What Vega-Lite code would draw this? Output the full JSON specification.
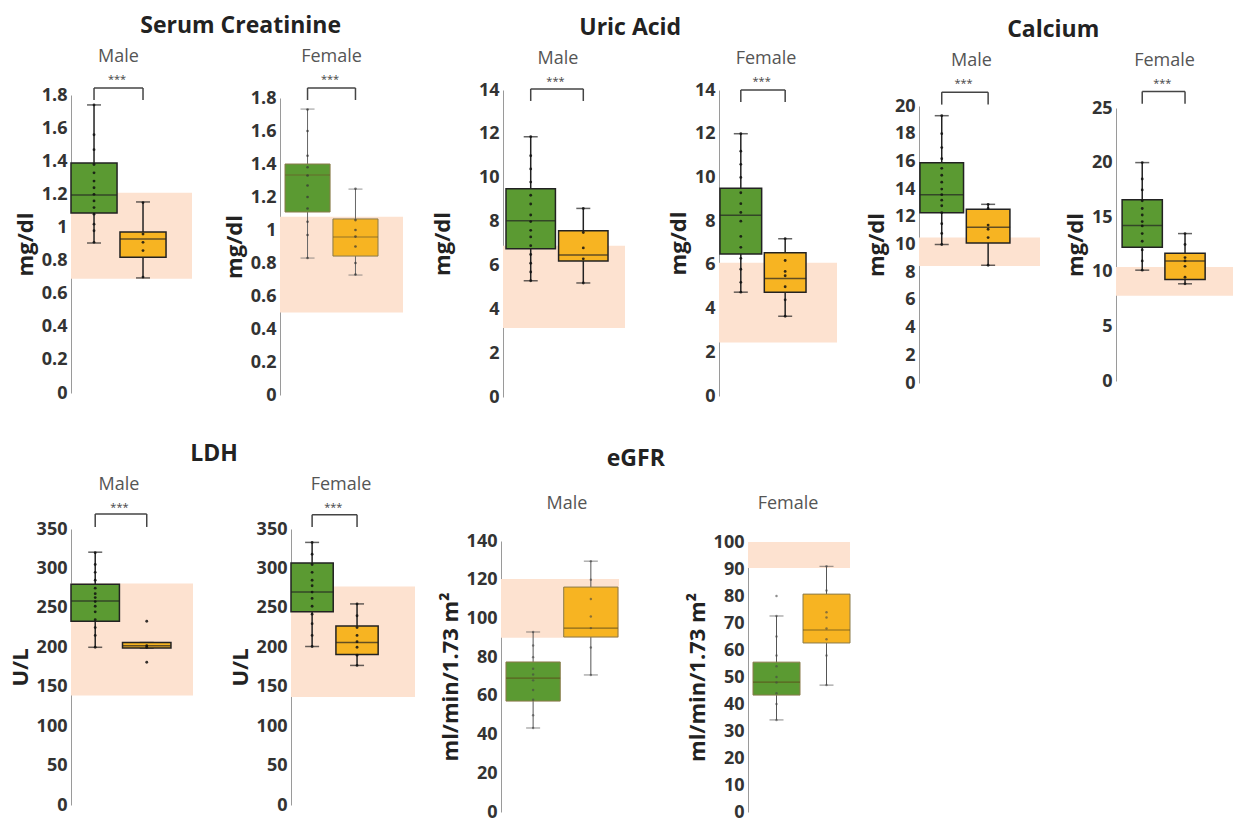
{
"$schema":"https://vega.github.io/schema/vega-lite/v6.json",
"padding":{"left":9,"top":15,"right":0,"bottom":0},
"background":"white",
"datasets":{
"stats":[
{"test":"SC","sex":"M","grp":"Group 1","min":0.906,"q1":1.087,"median":1.196,"q3":1.389,"max":1.74},
{"test":"SC","sex":"M","grp":"Group 2","min":0.695,"q1":0.82,"median":0.93,"q3":0.973,"max":1.154},
{"test":"SC","sex":"F","grp":"Group 1","min":0.83,"q1":1.109,"median":1.333,"q3":1.4,"max":1.733},
{"test":"SC","sex":"F","grp":"Group 2","min":0.727,"q1":0.842,"median":0.958,"q3":1.067,"max":1.248},
{"test":"UA","sex":"M","grp":"Group 1","min":5.3,"q1":6.76,"median":8.04,"q3":9.5,"max":11.87},
{"test":"UA","sex":"M","grp":"Group 2","min":5.2,"q1":6.2,"median":6.48,"q3":7.58,"max":8.6},
{"test":"UA","sex":"F","grp":"Group 1","min":4.75,"q1":6.5,"median":8.27,"q3":9.5,"max":12.0},
{"test":"UA","sex":"F","grp":"Group 2","min":3.65,"q1":4.75,"median":5.38,"q3":6.55,"max":7.2},
{"test":"CA","sex":"M","grp":"Group 1","min":10.0,"q1":12.3,"median":13.6,"q3":15.9,"max":19.3},
{"test":"CA","sex":"M","grp":"Group 2","min":8.5,"q1":10.1,"median":11.25,"q3":12.55,"max":12.9},
{"test":"CA","sex":"F","grp":"Group 1","min":10.15,"q1":12.25,"median":14.25,"q3":16.6,"max":20.0},
{"test":"CA","sex":"F","grp":"Group 2","min":8.9,"q1":9.3,"median":11.0,"q3":11.7,"max":13.5},
{"test":"LDH","sex":"M","grp":"Group 1","min":200,"q1":233,"median":258.6,"q3":280,"max":320.6},
{"test":"LDH","sex":"M","grp":"Group 2","min":199,"q1":199,"median":202,"q3":206,"max":206},
{"test":"LDH","sex":"F","grp":"Group 1","min":201,"q1":245,"median":270,"q3":307,"max":333},
{"test":"LDH","sex":"F","grp":"Group 2","min":177,"q1":191,"median":206,"q3":227,"max":255},
{"test":"EGFR","sex":"M","grp":"Group 1","min":43.4,"q1":57.3,"median":69.2,"q3":77.5,"max":93},
{"test":"EGFR","sex":"M","grp":"Group 2","min":70.8,"q1":90.4,"median":95,"q3":116.2,"max":129.6},
{"test":"EGFR","sex":"F","grp":"Group 1","min":34.1,"q1":43.3,"median":48.1,"q3":55.5,"max":72.6},
{"test":"EGFR","sex":"F","grp":"Group 2","min":47,"q1":62.6,"median":67.4,"q3":80.7,"max":91}
],
"ranges":[
{"test":"SC","sex":"M","lo":0.69,"hi":1.21},
{"test":"SC","sex":"F","lo":0.5,"hi":1.08},
{"test":"UA","sex":"M","lo":3.15,"hi":6.9},
{"test":"UA","sex":"F","lo":2.45,"hi":6.1},
{"test":"CA","sex":"M","lo":8.45,"hi":10.5},
{"test":"CA","sex":"F","lo":7.8,"hi":10.45},
{"test":"LDH","sex":"M","lo":139,"hi":281},
{"test":"LDH","sex":"F","lo":137,"hi":277},
{"test":"EGFR","sex":"M","lo":90,"hi":120.4},
{"test":"EGFR","sex":"F","lo":90.4,"hi":100}
],
"br":[
{"test":"SC","sex":"M","a":"Group 1","b":"Group 2","lo":1.77,"hi":1.842,"st":1.89},
{"test":"SC","sex":"F","a":"Group 1","b":"Group 2","lo":1.788,"hi":1.861,"st":1.909},
{"test":"UA","sex":"M","a":"Group 1","b":"Group 2","lo":13.5,"hi":14.05,"st":14.36},
{"test":"UA","sex":"F","a":"Group 1","b":"Group 2","lo":13.45,"hi":14.0,"st":14.36},
{"test":"CA","sex":"M","a":"Group 1","b":"Group 2","lo":20.1,"hi":21.0,"st":21.6},
{"test":"CA","sex":"F","a":"Group 1","b":"Group 2","lo":25.4,"hi":26.5,"st":27.2},
{"test":"LDH","sex":"M","a":"Group 1","b":"Group 2","lo":352.6,"hi":369,"st":377},
{"test":"LDH","sex":"F","a":"Group 1","b":"Group 2","lo":352.6,"hi":368,"st":377}
],
"pts":[
{"test":"SC","sex":"M","grp":"Group 1","v":0.91},{"test":"SC","sex":"M","grp":"Group 1","v":0.98},{"test":"SC","sex":"M","grp":"Group 1","v":1.02},{"test":"SC","sex":"M","grp":"Group 1","v":1.08},{"test":"SC","sex":"M","grp":"Group 1","v":1.12},{"test":"SC","sex":"M","grp":"Group 1","v":1.16},{"test":"SC","sex":"M","grp":"Group 1","v":1.2},{"test":"SC","sex":"M","grp":"Group 1","v":1.24},{"test":"SC","sex":"M","grp":"Group 1","v":1.28},{"test":"SC","sex":"M","grp":"Group 1","v":1.33},{"test":"SC","sex":"M","grp":"Group 1","v":1.38},{"test":"SC","sex":"M","grp":"Group 1","v":1.47},{"test":"SC","sex":"M","grp":"Group 1","v":1.56},{"test":"SC","sex":"M","grp":"Group 1","v":1.74},
{"test":"SC","sex":"M","grp":"Group 2","v":0.7},{"test":"SC","sex":"M","grp":"Group 2","v":0.86},{"test":"SC","sex":"M","grp":"Group 2","v":0.91},{"test":"SC","sex":"M","grp":"Group 2","v":0.96},{"test":"SC","sex":"M","grp":"Group 2","v":1.15},
{"test":"SC","sex":"F","grp":"Group 1","v":0.83},{"test":"SC","sex":"F","grp":"Group 1","v":0.97},{"test":"SC","sex":"F","grp":"Group 1","v":1.05},{"test":"SC","sex":"F","grp":"Group 1","v":1.13},{"test":"SC","sex":"F","grp":"Group 1","v":1.2},{"test":"SC","sex":"F","grp":"Group 1","v":1.27},{"test":"SC","sex":"F","grp":"Group 1","v":1.33},{"test":"SC","sex":"F","grp":"Group 1","v":1.38},{"test":"SC","sex":"F","grp":"Group 1","v":1.45},{"test":"SC","sex":"F","grp":"Group 1","v":1.6},{"test":"SC","sex":"F","grp":"Group 1","v":1.73},
{"test":"SC","sex":"F","grp":"Group 2","v":0.73},{"test":"SC","sex":"F","grp":"Group 2","v":0.8},{"test":"SC","sex":"F","grp":"Group 2","v":0.9},{"test":"SC","sex":"F","grp":"Group 2","v":0.96},{"test":"SC","sex":"F","grp":"Group 2","v":1.0},{"test":"SC","sex":"F","grp":"Group 2","v":1.06},{"test":"SC","sex":"F","grp":"Group 2","v":1.25},
{"test":"UA","sex":"M","grp":"Group 1","v":5.3},{"test":"UA","sex":"M","grp":"Group 1","v":5.7},{"test":"UA","sex":"M","grp":"Group 1","v":6.1},{"test":"UA","sex":"M","grp":"Group 1","v":6.5},{"test":"UA","sex":"M","grp":"Group 1","v":6.9},{"test":"UA","sex":"M","grp":"Group 1","v":7.3},{"test":"UA","sex":"M","grp":"Group 1","v":7.6},{"test":"UA","sex":"M","grp":"Group 1","v":8.0},{"test":"UA","sex":"M","grp":"Group 1","v":8.3},{"test":"UA","sex":"M","grp":"Group 1","v":8.8},{"test":"UA","sex":"M","grp":"Group 1","v":9.2},{"test":"UA","sex":"M","grp":"Group 1","v":9.8},{"test":"UA","sex":"M","grp":"Group 1","v":10.4},{"test":"UA","sex":"M","grp":"Group 1","v":11.0},{"test":"UA","sex":"M","grp":"Group 1","v":11.87},
{"test":"UA","sex":"M","grp":"Group 2","v":5.2},{"test":"UA","sex":"M","grp":"Group 2","v":6.3},{"test":"UA","sex":"M","grp":"Group 2","v":6.8},{"test":"UA","sex":"M","grp":"Group 2","v":7.5},{"test":"UA","sex":"M","grp":"Group 2","v":8.6},
{"test":"UA","sex":"F","grp":"Group 1","v":4.75},{"test":"UA","sex":"F","grp":"Group 1","v":5.2},{"test":"UA","sex":"F","grp":"Group 1","v":5.8},{"test":"UA","sex":"F","grp":"Group 1","v":6.3},{"test":"UA","sex":"F","grp":"Group 1","v":6.8},{"test":"UA","sex":"F","grp":"Group 1","v":7.3},{"test":"UA","sex":"F","grp":"Group 1","v":8.0},{"test":"UA","sex":"F","grp":"Group 1","v":8.4},{"test":"UA","sex":"F","grp":"Group 1","v":8.8},{"test":"UA","sex":"F","grp":"Group 1","v":9.3},{"test":"UA","sex":"F","grp":"Group 1","v":10.0},{"test":"UA","sex":"F","grp":"Group 1","v":10.6},{"test":"UA","sex":"F","grp":"Group 1","v":11.2},{"test":"UA","sex":"F","grp":"Group 1","v":12.0},
{"test":"UA","sex":"F","grp":"Group 2","v":3.65},{"test":"UA","sex":"F","grp":"Group 2","v":4.4},{"test":"UA","sex":"F","grp":"Group 2","v":5.0},{"test":"UA","sex":"F","grp":"Group 2","v":5.5},{"test":"UA","sex":"F","grp":"Group 2","v":5.7},{"test":"UA","sex":"F","grp":"Group 2","v":6.2},{"test":"UA","sex":"F","grp":"Group 2","v":7.2},
{"test":"CA","sex":"M","grp":"Group 1","v":10.0},{"test":"CA","sex":"M","grp":"Group 1","v":10.8},{"test":"CA","sex":"M","grp":"Group 1","v":11.5},{"test":"CA","sex":"M","grp":"Group 1","v":12.3},{"test":"CA","sex":"M","grp":"Group 1","v":12.8},{"test":"CA","sex":"M","grp":"Group 1","v":13.2},{"test":"CA","sex":"M","grp":"Group 1","v":13.6},{"test":"CA","sex":"M","grp":"Group 1","v":14.0},{"test":"CA","sex":"M","grp":"Group 1","v":14.5},{"test":"CA","sex":"M","grp":"Group 1","v":15.0},{"test":"CA","sex":"M","grp":"Group 1","v":15.5},{"test":"CA","sex":"M","grp":"Group 1","v":16.2},{"test":"CA","sex":"M","grp":"Group 1","v":17.0},{"test":"CA","sex":"M","grp":"Group 1","v":18.0},{"test":"CA","sex":"M","grp":"Group 1","v":19.3},
{"test":"CA","sex":"M","grp":"Group 2","v":8.5},{"test":"CA","sex":"M","grp":"Group 2","v":10.5},{"test":"CA","sex":"M","grp":"Group 2","v":11.1},{"test":"CA","sex":"M","grp":"Group 2","v":11.4},{"test":"CA","sex":"M","grp":"Group 2","v":12.6},{"test":"CA","sex":"M","grp":"Group 2","v":12.9},
{"test":"CA","sex":"F","grp":"Group 1","v":10.15},{"test":"CA","sex":"F","grp":"Group 1","v":11.0},{"test":"CA","sex":"F","grp":"Group 1","v":12.0},{"test":"CA","sex":"F","grp":"Group 1","v":12.8},{"test":"CA","sex":"F","grp":"Group 1","v":13.5},{"test":"CA","sex":"F","grp":"Group 1","v":14.2},{"test":"CA","sex":"F","grp":"Group 1","v":14.6},{"test":"CA","sex":"F","grp":"Group 1","v":15.2},{"test":"CA","sex":"F","grp":"Group 1","v":15.8},{"test":"CA","sex":"F","grp":"Group 1","v":16.5},{"test":"CA","sex":"F","grp":"Group 1","v":17.5},{"test":"CA","sex":"F","grp":"Group 1","v":18.5},{"test":"CA","sex":"F","grp":"Group 1","v":20.0},
{"test":"CA","sex":"F","grp":"Group 2","v":8.9},{"test":"CA","sex":"F","grp":"Group 2","v":9.5},{"test":"CA","sex":"F","grp":"Group 2","v":10.5},{"test":"CA","sex":"F","grp":"Group 2","v":11.0},{"test":"CA","sex":"F","grp":"Group 2","v":11.3},{"test":"CA","sex":"F","grp":"Group 2","v":12.5},{"test":"CA","sex":"F","grp":"Group 2","v":13.5},
{"test":"LDH","sex":"M","grp":"Group 1","v":200},{"test":"LDH","sex":"M","grp":"Group 1","v":215},{"test":"LDH","sex":"M","grp":"Group 1","v":225},{"test":"LDH","sex":"M","grp":"Group 1","v":235},{"test":"LDH","sex":"M","grp":"Group 1","v":245},{"test":"LDH","sex":"M","grp":"Group 1","v":252},{"test":"LDH","sex":"M","grp":"Group 1","v":258},{"test":"LDH","sex":"M","grp":"Group 1","v":263},{"test":"LDH","sex":"M","grp":"Group 1","v":268},{"test":"LDH","sex":"M","grp":"Group 1","v":275},{"test":"LDH","sex":"M","grp":"Group 1","v":285},{"test":"LDH","sex":"M","grp":"Group 1","v":295},{"test":"LDH","sex":"M","grp":"Group 1","v":305},{"test":"LDH","sex":"M","grp":"Group 1","v":320},
{"test":"LDH","sex":"M","grp":"Group 2","v":181},{"test":"LDH","sex":"M","grp":"Group 2","v":200},{"test":"LDH","sex":"M","grp":"Group 2","v":202},{"test":"LDH","sex":"M","grp":"Group 2","v":233},
{"test":"LDH","sex":"F","grp":"Group 1","v":201},{"test":"LDH","sex":"F","grp":"Group 1","v":215},{"test":"LDH","sex":"F","grp":"Group 1","v":230},{"test":"LDH","sex":"F","grp":"Group 1","v":242},{"test":"LDH","sex":"F","grp":"Group 1","v":252},{"test":"LDH","sex":"F","grp":"Group 1","v":262},{"test":"LDH","sex":"F","grp":"Group 1","v":270},{"test":"LDH","sex":"F","grp":"Group 1","v":278},{"test":"LDH","sex":"F","grp":"Group 1","v":285},{"test":"LDH","sex":"F","grp":"Group 1","v":295},{"test":"LDH","sex":"F","grp":"Group 1","v":305},{"test":"LDH","sex":"F","grp":"Group 1","v":318},{"test":"LDH","sex":"F","grp":"Group 1","v":333},
{"test":"LDH","sex":"F","grp":"Group 2","v":177},{"test":"LDH","sex":"F","grp":"Group 2","v":190},{"test":"LDH","sex":"F","grp":"Group 2","v":200},{"test":"LDH","sex":"F","grp":"Group 2","v":207},{"test":"LDH","sex":"F","grp":"Group 2","v":215},{"test":"LDH","sex":"F","grp":"Group 2","v":225},{"test":"LDH","sex":"F","grp":"Group 2","v":240},{"test":"LDH","sex":"F","grp":"Group 2","v":255},
{"test":"EGFR","sex":"M","grp":"Group 1","v":43.4},{"test":"EGFR","sex":"M","grp":"Group 1","v":50},{"test":"EGFR","sex":"M","grp":"Group 1","v":58},{"test":"EGFR","sex":"M","grp":"Group 1","v":63},{"test":"EGFR","sex":"M","grp":"Group 1","v":68},{"test":"EGFR","sex":"M","grp":"Group 1","v":71},{"test":"EGFR","sex":"M","grp":"Group 1","v":74},{"test":"EGFR","sex":"M","grp":"Group 1","v":80},{"test":"EGFR","sex":"M","grp":"Group 1","v":86},{"test":"EGFR","sex":"M","grp":"Group 1","v":93},
{"test":"EGFR","sex":"M","grp":"Group 2","v":70.8},{"test":"EGFR","sex":"M","grp":"Group 2","v":85},{"test":"EGFR","sex":"M","grp":"Group 2","v":95},{"test":"EGFR","sex":"M","grp":"Group 2","v":101},{"test":"EGFR","sex":"M","grp":"Group 2","v":110},{"test":"EGFR","sex":"M","grp":"Group 2","v":120},{"test":"EGFR","sex":"M","grp":"Group 2","v":129.6},
{"test":"EGFR","sex":"F","grp":"Group 1","v":34.1},{"test":"EGFR","sex":"F","grp":"Group 1","v":40},{"test":"EGFR","sex":"F","grp":"Group 1","v":44},{"test":"EGFR","sex":"F","grp":"Group 1","v":48},{"test":"EGFR","sex":"F","grp":"Group 1","v":50},{"test":"EGFR","sex":"F","grp":"Group 1","v":54},{"test":"EGFR","sex":"F","grp":"Group 1","v":58},{"test":"EGFR","sex":"F","grp":"Group 1","v":65},{"test":"EGFR","sex":"F","grp":"Group 1","v":72.6},{"test":"EGFR","sex":"F","grp":"Group 1","v":80},
{"test":"EGFR","sex":"F","grp":"Group 2","v":47},{"test":"EGFR","sex":"F","grp":"Group 2","v":58},{"test":"EGFR","sex":"F","grp":"Group 2","v":64},{"test":"EGFR","sex":"F","grp":"Group 2","v":68},{"test":"EGFR","sex":"F","grp":"Group 2","v":72},{"test":"EGFR","sex":"F","grp":"Group 2","v":74},{"test":"EGFR","sex":"F","grp":"Group 2","v":82},{"test":"EGFR","sex":"F","grp":"Group 2","v":91}
]
},
"concat":[
{"concat":[
 {"title":{"text":"Serum Creatinine","fontSize":23,"fontWeight":"bold","color":"#222","offset":10,"anchor":"middle","dx":32},
  "columns":2,"align":"none","spacing":31,
  "concat":[
  {"width":121,"height":307,"title":{"text":"Male","offset":8,"frame":"group","dx":-13},
   "layer":[
    {"data":{"name":"ranges"},"transform":[{"filter":"datum.test=='SC'&&datum.sex=='M'"}],"mark":{"type":"rect","color":"#fde2d0"},"encoding":{"x":{"value":0},"x2":{"value":"width"},"y":{"field":"lo","type":"quantitative","scale":{"domain":[0,1.8],"nice":false,"range":[303,5]},"axis":{"title":"mg/dl","values":[0,0.2,0.4,0.6,0.8,1,1.2,1.4,1.6,1.8],"tickCount":20,"format":"~f","labelOverlap":false}},"y2":{"field":"hi"}}},
    {"data":{"name":"stats"},"transform":[{"filter":"datum.test=='SC'&&datum.sex=='M'"}],"mark":{"type":"rule","color":"#222","strokeWidth":1.5},"encoding":{"x":{"field":"grp","type":"nominal","scale":{"domain":["Group 1","Group 2"],"paddingInner":0.06,"paddingOuter":0.265,"align":0},"axis":null},"y":{"field":"min","type":"quantitative"},"y2":{"field":"max"}}},
    {"data":{"name":"stats"},"transform":[{"filter":"datum.test=='SC'&&datum.sex=='M'"}],"mark":{"type":"tick","color":"#222","size":14,"thickness":1.5},"encoding":{"x":{"field":"grp","type":"nominal"},"y":{"field":"min","type":"quantitative"}}},
    {"data":{"name":"stats"},"transform":[{"filter":"datum.test=='SC'&&datum.sex=='M'"}],"mark":{"type":"tick","color":"#222","size":14,"thickness":1.5},"encoding":{"x":{"field":"grp","type":"nominal"},"y":{"field":"max","type":"quantitative"}}},
    {"data":{"name":"stats"},"transform":[{"filter":"datum.test=='SC'&&datum.sex=='M'"}],"mark":{"type":"bar","stroke":"#222","strokeWidth":1.5},"encoding":{"x":{"field":"grp","type":"nominal"},"y":{"field":"q1","type":"quantitative"},"y2":{"field":"q3"},"color":{"field":"grp","type":"nominal","scale":{"domain":["Group 1","Group 2"],"range":["#5b9a32","#f7b422"]},"legend":null}}},
    {"data":{"name":"stats"},"transform":[{"filter":"datum.test=='SC'&&datum.sex=='M'"}],"mark":{"type":"tick","color":"#222","size":46,"thickness":1.5},"encoding":{"x":{"field":"grp","type":"nominal"},"y":{"field":"median","type":"quantitative"}}},
    {"data":{"name":"pts"},"transform":[{"filter":"datum.test=='SC'&&datum.sex=='M'"}],"mark":{"type":"circle","color":"#111","size":8,"opacity":0.85},"encoding":{"x":{"field":"grp","type":"nominal"},"y":{"field":"v","type":"quantitative"}}},
    {"data":{"name":"br"},"transform":[{"filter":"datum.test=='SC'&&datum.sex=='M'"}],"mark":{"type":"rule","color":"#444","strokeWidth":1.5},"encoding":{"x":{"field":"a","type":"nominal"},"y":{"field":"lo","type":"quantitative"},"y2":{"field":"hi"}}},
    {"data":{"name":"br"},"transform":[{"filter":"datum.test=='SC'&&datum.sex=='M'"}],"mark":{"type":"rule","color":"#444","strokeWidth":1.5},"encoding":{"x":{"field":"b","type":"nominal"},"y":{"field":"lo","type":"quantitative"},"y2":{"field":"hi"}}},
    {"data":{"name":"br"},"transform":[{"filter":"datum.test=='SC'&&datum.sex=='M'"}],"mark":{"type":"rule","color":"#444","strokeWidth":1.5},"encoding":{"x":{"field":"a","type":"nominal"},"x2":{"field":"b"},"y":{"field":"hi","type":"quantitative"}}},
    {"data":{"name":"br"},"transform":[{"filter":"datum.test=='SC'&&datum.sex=='M'"}],"mark":{"type":"text","text":"***","fontSize":11,"color":"#444","baseline":"middle"},"encoding":{"x":{"field":"a","type":"nominal","bandPosition":1},"y":{"field":"st","type":"quantitative"}}}
   ]},
  {"width":123,"height":307,"title":{"text":"Female","offset":8,"frame":"group","dx":-10},
   "layer":[
    {"data":{"name":"ranges"},"transform":[{"filter":"datum.test=='SC'&&datum.sex=='F'"}],"mark":{"type":"rect","color":"#fde2d0"},"encoding":{"x":{"value":0},"x2":{"value":"width"},"y":{"field":"lo","type":"quantitative","scale":{"domain":[0,1.8],"nice":false,"range":[305,8]},"axis":{"title":"mg/dl","values":[0,0.2,0.4,0.6,0.8,1,1.2,1.4,1.6,1.8],"tickCount":20,"format":"~f","labelOverlap":false}},"y2":{"field":"hi"}}},
    {"data":{"name":"stats"},"transform":[{"filter":"datum.test=='SC'&&datum.sex=='F'"}],"mark":{"type":"rule","color":"#666","strokeWidth":1},"encoding":{"x":{"field":"grp","type":"nominal","scale":{"domain":["Group 1","Group 2"],"paddingInner":0.06,"paddingOuter":0.313,"align":0.167},"axis":null},"y":{"field":"min","type":"quantitative"},"y2":{"field":"max"}}},
    {"data":{"name":"stats"},"transform":[{"filter":"datum.test=='SC'&&datum.sex=='F'"}],"mark":{"type":"tick","color":"#666","size":14,"thickness":1},"encoding":{"x":{"field":"grp","type":"nominal"},"y":{"field":"min","type":"quantitative"}}},
    {"data":{"name":"stats"},"transform":[{"filter":"datum.test=='SC'&&datum.sex=='F'"}],"mark":{"type":"tick","color":"#666","size":14,"thickness":1},"encoding":{"x":{"field":"grp","type":"nominal"},"y":{"field":"max","type":"quantitative"}}},
    {"data":{"name":"stats"},"transform":[{"filter":"datum.test=='SC'&&datum.sex=='F'"}],"mark":{"type":"bar","stroke":"#8a7a4a","strokeWidth":1},"encoding":{"x":{"field":"grp","type":"nominal"},"y":{"field":"q1","type":"quantitative"},"y2":{"field":"q3"},"color":{"field":"grp","type":"nominal","scale":{"domain":["Group 1","Group 2"],"range":["#5b9a32","#f7b422"]},"legend":null}}},
    {"data":{"name":"stats"},"transform":[{"filter":"datum.test=='SC'&&datum.sex=='F'"}],"mark":{"type":"tick","color":"#6a5a2a","size":45,"thickness":1},"encoding":{"x":{"field":"grp","type":"nominal"},"y":{"field":"median","type":"quantitative"}}},
    {"data":{"name":"pts"},"transform":[{"filter":"datum.test=='SC'&&datum.sex=='F'"}],"mark":{"type":"circle","color":"#333","size":7,"opacity":0.7},"encoding":{"x":{"field":"grp","type":"nominal"},"y":{"field":"v","type":"quantitative"}}},
    {"data":{"name":"br"},"transform":[{"filter":"datum.test=='SC'&&datum.sex=='F'"}],"mark":{"type":"rule","color":"#444","strokeWidth":1.5},"encoding":{"x":{"field":"a","type":"nominal"},"y":{"field":"lo","type":"quantitative"},"y2":{"field":"hi"}}},
    {"data":{"name":"br"},"transform":[{"filter":"datum.test=='SC'&&datum.sex=='F'"}],"mark":{"type":"rule","color":"#444","strokeWidth":1.5},"encoding":{"x":{"field":"b","type":"nominal"},"y":{"field":"lo","type":"quantitative"},"y2":{"field":"hi"}}},
    {"data":{"name":"br"},"transform":[{"filter":"datum.test=='SC'&&datum.sex=='F'"}],"mark":{"type":"rule","color":"#444","strokeWidth":1.5},"encoding":{"x":{"field":"a","type":"nominal"},"x2":{"field":"b"},"y":{"field":"hi","type":"quantitative"}}},
    {"data":{"name":"br"},"transform":[{"filter":"datum.test=='SC'&&datum.sex=='F'"}],"mark":{"type":"text","text":"***","fontSize":11,"color":"#444","baseline":"middle"},"encoding":{"x":{"field":"a","type":"nominal","bandPosition":1},"y":{"field":"st","type":"quantitative"}}}
   ]}
 ]},
 {"title":{"text":"Uric Acid","fontSize":23,"fontWeight":"bold","color":"#222","offset":10,"anchor":"middle","dx":-4},
  "columns":2,"align":"none","spacing":42,
  "concat":[
  {"width":122,"height":307,"title":{"text":"Male","offset":8,"frame":"group","dx":-6},
   "layer":[
    {"data":{"name":"ranges"},"transform":[{"filter":"datum.test=='UA'&&datum.sex=='M'"}],"mark":{"type":"rect","color":"#fde2d0"},"encoding":{"x":{"value":0},"x2":{"value":"width"},"y":{"field":"lo","type":"quantitative","scale":{"domain":[0,14],"nice":false,"range":[307,0]},"axis":{"title":"mg/dl","values":[0,2,4,6,8,10,12,14],"tickCount":20,"format":"~f","labelOverlap":false,"titlePadding":24}},"y2":{"field":"hi"}}},
    {"data":{"name":"stats"},"transform":[{"filter":"datum.test=='UA'&&datum.sex=='M'"}],"mark":{"type":"rule","color":"#222","strokeWidth":1.5},"encoding":{"x":{"field":"grp","type":"nominal","scale":{"domain":["Group 1","Group 2"],"paddingInner":0.06,"paddingOuter":0.19,"align":0.15},"axis":null},"y":{"field":"min","type":"quantitative"},"y2":{"field":"max"}}},
    {"data":{"name":"stats"},"transform":[{"filter":"datum.test=='UA'&&datum.sex=='M'"}],"mark":{"type":"tick","color":"#222","size":14,"thickness":1.5},"encoding":{"x":{"field":"grp","type":"nominal"},"y":{"field":"min","type":"quantitative"}}},
    {"data":{"name":"stats"},"transform":[{"filter":"datum.test=='UA'&&datum.sex=='M'"}],"mark":{"type":"tick","color":"#222","size":14,"thickness":1.5},"encoding":{"x":{"field":"grp","type":"nominal"},"y":{"field":"max","type":"quantitative"}}},
    {"data":{"name":"stats"},"transform":[{"filter":"datum.test=='UA'&&datum.sex=='M'"}],"mark":{"type":"bar","stroke":"#222","strokeWidth":1.5},"encoding":{"x":{"field":"grp","type":"nominal"},"y":{"field":"q1","type":"quantitative"},"y2":{"field":"q3"},"color":{"field":"grp","type":"nominal","scale":{"domain":["Group 1","Group 2"],"range":["#5b9a32","#f7b422"]},"legend":null}}},
    {"data":{"name":"stats"},"transform":[{"filter":"datum.test=='UA'&&datum.sex=='M'"}],"mark":{"type":"tick","color":"#222","size":49,"thickness":1.5},"encoding":{"x":{"field":"grp","type":"nominal"},"y":{"field":"median","type":"quantitative"}}},
    {"data":{"name":"pts"},"transform":[{"filter":"datum.test=='UA'&&datum.sex=='M'"}],"mark":{"type":"circle","color":"#111","size":8,"opacity":0.85},"encoding":{"x":{"field":"grp","type":"nominal"},"y":{"field":"v","type":"quantitative"}}},
    {"data":{"name":"br"},"transform":[{"filter":"datum.test=='UA'&&datum.sex=='M'"}],"mark":{"type":"rule","color":"#444","strokeWidth":1.5},"encoding":{"x":{"field":"a","type":"nominal"},"y":{"field":"lo","type":"quantitative"},"y2":{"field":"hi"}}},
    {"data":{"name":"br"},"transform":[{"filter":"datum.test=='UA'&&datum.sex=='M'"}],"mark":{"type":"rule","color":"#444","strokeWidth":1.5},"encoding":{"x":{"field":"b","type":"nominal"},"y":{"field":"lo","type":"quantitative"},"y2":{"field":"hi"}}},
    {"data":{"name":"br"},"transform":[{"filter":"datum.test=='UA'&&datum.sex=='M'"}],"mark":{"type":"rule","color":"#444","strokeWidth":1.5},"encoding":{"x":{"field":"a","type":"nominal"},"x2":{"field":"b"},"y":{"field":"hi","type":"quantitative"}}},
    {"data":{"name":"br"},"transform":[{"filter":"datum.test=='UA'&&datum.sex=='M'"}],"mark":{"type":"text","text":"***","fontSize":11,"color":"#444","baseline":"middle"},"encoding":{"x":{"field":"a","type":"nominal","bandPosition":1},"y":{"field":"st","type":"quantitative"}}}
   ]},
  {"width":118,"height":307,"title":{"text":"Female","offset":8,"frame":"group","dx":-12},
   "layer":[
    {"data":{"name":"ranges"},"transform":[{"filter":"datum.test=='UA'&&datum.sex=='F'"}],"mark":{"type":"rect","color":"#fde2d0"},"encoding":{"x":{"value":0},"x2":{"value":"width"},"y":{"field":"lo","type":"quantitative","scale":{"domain":[0,14],"nice":false,"range":[306,0]},"axis":{"title":"mg/dl","values":[0,2,4,6,8,10,12,14],"tickCount":20,"format":"~f","labelOverlap":false}},"y2":{"field":"hi"}}},
    {"data":{"name":"stats"},"transform":[{"filter":"datum.test=='UA'&&datum.sex=='F'"}],"mark":{"type":"rule","color":"#222","strokeWidth":1.5},"encoding":{"x":{"field":"grp","type":"nominal","scale":{"domain":["Group 1","Group 2"],"paddingInner":0.06,"paddingOuter":0.36,"align":0.03},"axis":null},"y":{"field":"min","type":"quantitative"},"y2":{"field":"max"}}},
    {"data":{"name":"stats"},"transform":[{"filter":"datum.test=='UA'&&datum.sex=='F'"}],"mark":{"type":"tick","color":"#222","size":14,"thickness":1.5},"encoding":{"x":{"field":"grp","type":"nominal"},"y":{"field":"min","type":"quantitative"}}},
    {"data":{"name":"stats"},"transform":[{"filter":"datum.test=='UA'&&datum.sex=='F'"}],"mark":{"type":"tick","color":"#222","size":14,"thickness":1.5},"encoding":{"x":{"field":"grp","type":"nominal"},"y":{"field":"max","type":"quantitative"}}},
    {"data":{"name":"stats"},"transform":[{"filter":"datum.test=='UA'&&datum.sex=='F'"}],"mark":{"type":"bar","stroke":"#222","strokeWidth":1.5},"encoding":{"x":{"field":"grp","type":"nominal"},"y":{"field":"q1","type":"quantitative"},"y2":{"field":"q3"},"color":{"field":"grp","type":"nominal","scale":{"domain":["Group 1","Group 2"],"range":["#5b9a32","#f7b422"]},"legend":null}}},
    {"data":{"name":"stats"},"transform":[{"filter":"datum.test=='UA'&&datum.sex=='F'"}],"mark":{"type":"tick","color":"#222","size":42,"thickness":1.5},"encoding":{"x":{"field":"grp","type":"nominal"},"y":{"field":"median","type":"quantitative"}}},
    {"data":{"name":"pts"},"transform":[{"filter":"datum.test=='UA'&&datum.sex=='F'"}],"mark":{"type":"circle","color":"#111","size":8,"opacity":0.85},"encoding":{"x":{"field":"grp","type":"nominal"},"y":{"field":"v","type":"quantitative"}}},
    {"data":{"name":"br"},"transform":[{"filter":"datum.test=='UA'&&datum.sex=='F'"}],"mark":{"type":"rule","color":"#444","strokeWidth":1.5},"encoding":{"x":{"field":"a","type":"nominal"},"y":{"field":"lo","type":"quantitative"},"y2":{"field":"hi"}}},
    {"data":{"name":"br"},"transform":[{"filter":"datum.test=='UA'&&datum.sex=='F'"}],"mark":{"type":"rule","color":"#444","strokeWidth":1.5},"encoding":{"x":{"field":"b","type":"nominal"},"y":{"field":"lo","type":"quantitative"},"y2":{"field":"hi"}}},
    {"data":{"name":"br"},"transform":[{"filter":"datum.test=='UA'&&datum.sex=='F'"}],"mark":{"type":"rule","color":"#444","strokeWidth":1.5},"encoding":{"x":{"field":"a","type":"nominal"},"x2":{"field":"b"},"y":{"field":"hi","type":"quantitative"}}},
    {"data":{"name":"br"},"transform":[{"filter":"datum.test=='UA'&&datum.sex=='F'"}],"mark":{"type":"text","text":"***","fontSize":11,"color":"#444","baseline":"middle"},"encoding":{"x":{"field":"a","type":"nominal","bandPosition":1},"y":{"field":"st","type":"quantitative"}}}
   ]}
 ]},
 {"title":{"text":"Calcium","fontSize":23,"fontWeight":"bold","color":"#222","offset":10,"anchor":"middle","dx":4},
  "columns":2,"align":"none","spacing":24,
  "concat":[
  {"width":121,"height":307,"title":{"text":"Male","offset":8,"frame":"group","dx":-8},
   "layer":[
    {"data":{"name":"ranges"},"transform":[{"filter":"datum.test=='CA'&&datum.sex=='M'"}],"mark":{"type":"rect","color":"#fde2d0"},"encoding":{"x":{"value":0},"x2":{"value":"width"},"y":{"field":"lo","type":"quantitative","scale":{"domain":[0,20],"nice":false,"range":[293,16]},"axis":{"title":"mg/dl","values":[0,2,4,6,8,10,12,14,16,18,20],"tickCount":20,"format":"~f","labelOverlap":false,"titlePadding":6,"labelPadding":4}},"y2":{"field":"hi"}}},
    {"data":{"name":"stats"},"transform":[{"filter":"datum.test=='CA'&&datum.sex=='M'"}],"mark":{"type":"rule","color":"#222","strokeWidth":1.5},"encoding":{"x":{"field":"grp","type":"nominal","scale":{"domain":["Group 1","Group 2"],"paddingInner":0.06,"paddingOuter":0.334,"align":0.03},"axis":null},"y":{"field":"min","type":"quantitative"},"y2":{"field":"max"}}},
    {"data":{"name":"stats"},"transform":[{"filter":"datum.test=='CA'&&datum.sex=='M'"}],"mark":{"type":"tick","color":"#222","size":14,"thickness":1.5},"encoding":{"x":{"field":"grp","type":"nominal"},"y":{"field":"min","type":"quantitative"}}},
    {"data":{"name":"stats"},"transform":[{"filter":"datum.test=='CA'&&datum.sex=='M'"}],"mark":{"type":"tick","color":"#222","size":14,"thickness":1.5},"encoding":{"x":{"field":"grp","type":"nominal"},"y":{"field":"max","type":"quantitative"}}},
    {"data":{"name":"stats"},"transform":[{"filter":"datum.test=='CA'&&datum.sex=='M'"}],"mark":{"type":"bar","stroke":"#222","strokeWidth":1.5},"encoding":{"x":{"field":"grp","type":"nominal"},"y":{"field":"q1","type":"quantitative"},"y2":{"field":"q3"},"color":{"field":"grp","type":"nominal","scale":{"domain":["Group 1","Group 2"],"range":["#5b9a32","#f7b422"]},"legend":null}}},
    {"data":{"name":"stats"},"transform":[{"filter":"datum.test=='CA'&&datum.sex=='M'"}],"mark":{"type":"tick","color":"#222","size":44,"thickness":1.5},"encoding":{"x":{"field":"grp","type":"nominal"},"y":{"field":"median","type":"quantitative"}}},
    {"data":{"name":"pts"},"transform":[{"filter":"datum.test=='CA'&&datum.sex=='M'"}],"mark":{"type":"circle","color":"#111","size":8,"opacity":0.85},"encoding":{"x":{"field":"grp","type":"nominal"},"y":{"field":"v","type":"quantitative"}}},
    {"data":{"name":"br"},"transform":[{"filter":"datum.test=='CA'&&datum.sex=='M'"}],"mark":{"type":"rule","color":"#444","strokeWidth":1.5},"encoding":{"x":{"field":"a","type":"nominal"},"y":{"field":"lo","type":"quantitative"},"y2":{"field":"hi"}}},
    {"data":{"name":"br"},"transform":[{"filter":"datum.test=='CA'&&datum.sex=='M'"}],"mark":{"type":"rule","color":"#444","strokeWidth":1.5},"encoding":{"x":{"field":"b","type":"nominal"},"y":{"field":"lo","type":"quantitative"},"y2":{"field":"hi"}}},
    {"data":{"name":"br"},"transform":[{"filter":"datum.test=='CA'&&datum.sex=='M'"}],"mark":{"type":"rule","color":"#444","strokeWidth":1.5},"encoding":{"x":{"field":"a","type":"nominal"},"x2":{"field":"b"},"y":{"field":"hi","type":"quantitative"}}},
    {"data":{"name":"br"},"transform":[{"filter":"datum.test=='CA'&&datum.sex=='M'"}],"mark":{"type":"text","text":"***","fontSize":11,"color":"#444","baseline":"middle"},"encoding":{"x":{"field":"a","type":"nominal","bandPosition":1},"y":{"field":"st","type":"quantitative"}}}
   ]},
  {"width":117,"height":307,"title":{"text":"Female","offset":8,"frame":"group","dx":-10},
   "layer":[
    {"data":{"name":"ranges"},"transform":[{"filter":"datum.test=='CA'&&datum.sex=='F'"}],"mark":{"type":"rect","color":"#fde2d0"},"encoding":{"x":{"value":0},"x2":{"value":"width"},"y":{"field":"lo","type":"quantitative","scale":{"domain":[0,25],"nice":false,"range":[291,18]},"axis":{"title":"mg/dl","values":[0,5,10,15,20,25],"tickCount":20,"format":"~f","labelOverlap":false}},"y2":{"field":"hi"}}},
    {"data":{"name":"stats"},"transform":[{"filter":"datum.test=='CA'&&datum.sex=='F'"}],"mark":{"type":"rule","color":"#222","strokeWidth":1.5},"encoding":{"x":{"field":"grp","type":"nominal","scale":{"domain":["Group 1","Group 2"],"paddingInner":0.06,"paddingOuter":0.397,"align":0.18},"axis":null},"y":{"field":"min","type":"quantitative"},"y2":{"field":"max"}}},
    {"data":{"name":"stats"},"transform":[{"filter":"datum.test=='CA'&&datum.sex=='F'"}],"mark":{"type":"tick","color":"#222","size":14,"thickness":1.5},"encoding":{"x":{"field":"grp","type":"nominal"},"y":{"field":"min","type":"quantitative"}}},
    {"data":{"name":"stats"},"transform":[{"filter":"datum.test=='CA'&&datum.sex=='F'"}],"mark":{"type":"tick","color":"#222","size":14,"thickness":1.5},"encoding":{"x":{"field":"grp","type":"nominal"},"y":{"field":"max","type":"quantitative"}}},
    {"data":{"name":"stats"},"transform":[{"filter":"datum.test=='CA'&&datum.sex=='F'"}],"mark":{"type":"bar","stroke":"#222","strokeWidth":1.5},"encoding":{"x":{"field":"grp","type":"nominal"},"y":{"field":"q1","type":"quantitative"},"y2":{"field":"q3"},"color":{"field":"grp","type":"nominal","scale":{"domain":["Group 1","Group 2"],"range":["#5b9a32","#f7b422"]},"legend":null}}},
    {"data":{"name":"stats"},"transform":[{"filter":"datum.test=='CA'&&datum.sex=='F'"}],"mark":{"type":"tick","color":"#222","size":40,"thickness":1.5},"encoding":{"x":{"field":"grp","type":"nominal"},"y":{"field":"median","type":"quantitative"}}},
    {"data":{"name":"pts"},"transform":[{"filter":"datum.test=='CA'&&datum.sex=='F'"}],"mark":{"type":"circle","color":"#111","size":8,"opacity":0.85},"encoding":{"x":{"field":"grp","type":"nominal"},"y":{"field":"v","type":"quantitative"}}},
    {"data":{"name":"br"},"transform":[{"filter":"datum.test=='CA'&&datum.sex=='F'"}],"mark":{"type":"rule","color":"#444","strokeWidth":1.5},"encoding":{"x":{"field":"a","type":"nominal"},"y":{"field":"lo","type":"quantitative"},"y2":{"field":"hi"}}},
    {"data":{"name":"br"},"transform":[{"filter":"datum.test=='CA'&&datum.sex=='F'"}],"mark":{"type":"rule","color":"#444","strokeWidth":1.5},"encoding":{"x":{"field":"b","type":"nominal"},"y":{"field":"lo","type":"quantitative"},"y2":{"field":"hi"}}},
    {"data":{"name":"br"},"transform":[{"filter":"datum.test=='CA'&&datum.sex=='F'"}],"mark":{"type":"rule","color":"#444","strokeWidth":1.5},"encoding":{"x":{"field":"a","type":"nominal"},"x2":{"field":"b"},"y":{"field":"hi","type":"quantitative"}}},
    {"data":{"name":"br"},"transform":[{"filter":"datum.test=='CA'&&datum.sex=='F'"}],"mark":{"type":"text","text":"***","fontSize":11,"color":"#444","baseline":"middle"},"encoding":{"x":{"field":"a","type":"nominal","bandPosition":1},"y":{"field":"st","type":"quantitative"}}}
   ]}
 ]}
],"columns":3,"align":"none","spacing":28},
{"concat":[
 {"title":{"text":"LDH","fontSize":23,"fontWeight":"bold","color":"#222","offset":10,"anchor":"middle","dx":2},
  "columns":2,"align":"none","spacing":36,
  "concat":[
  {"width":122,"height":283,"title":{"text":"Male","offset":8,"frame":"group","dx":-13},
   "layer":[
    {"data":{"name":"ranges"},"transform":[{"filter":"datum.test=='LDH'&&datum.sex=='M'"}],"mark":{"type":"rect","color":"#fde2d0"},"encoding":{"x":{"value":0},"x2":{"value":"width"},"y":{"field":"lo","type":"quantitative","scale":{"domain":[0,350],"nice":false,"range":[276,0]},"axis":{"title":"U/L","values":[0,50,100,150,200,250,300,350],"tickCount":20,"format":"~f","labelOverlap":false}},"y2":{"field":"hi"}}},
    {"data":{"name":"stats"},"transform":[{"filter":"datum.test=='LDH'&&datum.sex=='M'"}],"mark":{"type":"rule","color":"#222","strokeWidth":1.5},"encoding":{"x":{"field":"grp","type":"nominal","scale":{"domain":["Group 1","Group 2"],"paddingInner":0.06,"paddingOuter":0.214,"align":0},"axis":null},"y":{"field":"min","type":"quantitative"},"y2":{"field":"max"}}},
    {"data":{"name":"stats"},"transform":[{"filter":"datum.test=='LDH'&&datum.sex=='M'"}],"mark":{"type":"tick","color":"#222","size":14,"thickness":1.5},"encoding":{"x":{"field":"grp","type":"nominal"},"y":{"field":"min","type":"quantitative"}}},
    {"data":{"name":"stats"},"transform":[{"filter":"datum.test=='LDH'&&datum.sex=='M'"}],"mark":{"type":"tick","color":"#222","size":14,"thickness":1.5},"encoding":{"x":{"field":"grp","type":"nominal"},"y":{"field":"max","type":"quantitative"}}},
    {"data":{"name":"stats"},"transform":[{"filter":"datum.test=='LDH'&&datum.sex=='M'"}],"mark":{"type":"bar","stroke":"#222","strokeWidth":1.5},"encoding":{"x":{"field":"grp","type":"nominal"},"y":{"field":"q1","type":"quantitative"},"y2":{"field":"q3"},"color":{"field":"grp","type":"nominal","scale":{"domain":["Group 1","Group 2"],"range":["#5b9a32","#f7b422"]},"legend":null}}},
    {"data":{"name":"stats"},"transform":[{"filter":"datum.test=='LDH'&&datum.sex=='M'"}],"mark":{"type":"tick","color":"#222","size":48,"thickness":1.5},"encoding":{"x":{"field":"grp","type":"nominal"},"y":{"field":"median","type":"quantitative"}}},
    {"data":{"name":"pts"},"transform":[{"filter":"datum.test=='LDH'&&datum.sex=='M'"}],"mark":{"type":"circle","color":"#111","size":8,"opacity":0.85},"encoding":{"x":{"field":"grp","type":"nominal"},"y":{"field":"v","type":"quantitative"}}},
    {"data":{"name":"br"},"transform":[{"filter":"datum.test=='LDH'&&datum.sex=='M'"}],"mark":{"type":"rule","color":"#444","strokeWidth":1.5},"encoding":{"x":{"field":"a","type":"nominal"},"y":{"field":"lo","type":"quantitative"},"y2":{"field":"hi"}}},
    {"data":{"name":"br"},"transform":[{"filter":"datum.test=='LDH'&&datum.sex=='M'"}],"mark":{"type":"rule","color":"#444","strokeWidth":1.5},"encoding":{"x":{"field":"b","type":"nominal"},"y":{"field":"lo","type":"quantitative"},"y2":{"field":"hi"}}},
    {"data":{"name":"br"},"transform":[{"filter":"datum.test=='LDH'&&datum.sex=='M'"}],"mark":{"type":"rule","color":"#444","strokeWidth":1.5},"encoding":{"x":{"field":"a","type":"nominal"},"x2":{"field":"b"},"y":{"field":"hi","type":"quantitative"}}},
    {"data":{"name":"br"},"transform":[{"filter":"datum.test=='LDH'&&datum.sex=='M'"}],"mark":{"type":"text","text":"***","fontSize":11,"color":"#444","baseline":"middle"},"encoding":{"x":{"field":"a","type":"nominal","bandPosition":1},"y":{"field":"st","type":"quantitative"}}}
   ]},
  {"width":124,"height":283,"title":{"text":"Female","offset":8,"frame":"group","dx":-12},
   "layer":[
    {"data":{"name":"ranges"},"transform":[{"filter":"datum.test=='LDH'&&datum.sex=='F'"}],"mark":{"type":"rect","color":"#fde2d0"},"encoding":{"x":{"value":0},"x2":{"value":"width"},"y":{"field":"lo","type":"quantitative","scale":{"domain":[0,350],"nice":false,"range":[276,0]},"axis":{"title":"U/L","values":[0,50,100,150,200,250,300,350],"tickCount":20,"format":"~f","labelOverlap":false}},"y2":{"field":"hi"}}},
    {"data":{"name":"stats"},"transform":[{"filter":"datum.test=='LDH'&&datum.sex=='F'"}],"mark":{"type":"rule","color":"#222","strokeWidth":1.5},"encoding":{"x":{"field":"grp","type":"nominal","scale":{"domain":["Group 1","Group 2"],"paddingInner":0.06,"paddingOuter":0.41,"align":0},"axis":null},"y":{"field":"min","type":"quantitative"},"y2":{"field":"max"}}},
    {"data":{"name":"stats"},"transform":[{"filter":"datum.test=='LDH'&&datum.sex=='F'"}],"mark":{"type":"tick","color":"#222","size":14,"thickness":1.5},"encoding":{"x":{"field":"grp","type":"nominal"},"y":{"field":"min","type":"quantitative"}}},
    {"data":{"name":"stats"},"transform":[{"filter":"datum.test=='LDH'&&datum.sex=='F'"}],"mark":{"type":"tick","color":"#222","size":14,"thickness":1.5},"encoding":{"x":{"field":"grp","type":"nominal"},"y":{"field":"max","type":"quantitative"}}},
    {"data":{"name":"stats"},"transform":[{"filter":"datum.test=='LDH'&&datum.sex=='F'"}],"mark":{"type":"bar","stroke":"#222","strokeWidth":1.5},"encoding":{"x":{"field":"grp","type":"nominal"},"y":{"field":"q1","type":"quantitative"},"y2":{"field":"q3"},"color":{"field":"grp","type":"nominal","scale":{"domain":["Group 1","Group 2"],"range":["#5b9a32","#f7b422"]},"legend":null}}},
    {"data":{"name":"stats"},"transform":[{"filter":"datum.test=='LDH'&&datum.sex=='F'"}],"mark":{"type":"tick","color":"#222","size":42,"thickness":1.5},"encoding":{"x":{"field":"grp","type":"nominal"},"y":{"field":"median","type":"quantitative"}}},
    {"data":{"name":"pts"},"transform":[{"filter":"datum.test=='LDH'&&datum.sex=='F'"}],"mark":{"type":"circle","color":"#111","size":8,"opacity":0.85},"encoding":{"x":{"field":"grp","type":"nominal"},"y":{"field":"v","type":"quantitative"}}},
    {"data":{"name":"br"},"transform":[{"filter":"datum.test=='LDH'&&datum.sex=='F'"}],"mark":{"type":"rule","color":"#444","strokeWidth":1.5},"encoding":{"x":{"field":"a","type":"nominal"},"y":{"field":"lo","type":"quantitative"},"y2":{"field":"hi"}}},
    {"data":{"name":"br"},"transform":[{"filter":"datum.test=='LDH'&&datum.sex=='F'"}],"mark":{"type":"rule","color":"#444","strokeWidth":1.5},"encoding":{"x":{"field":"b","type":"nominal"},"y":{"field":"lo","type":"quantitative"},"y2":{"field":"hi"}}},
    {"data":{"name":"br"},"transform":[{"filter":"datum.test=='LDH'&&datum.sex=='F'"}],"mark":{"type":"rule","color":"#444","strokeWidth":1.5},"encoding":{"x":{"field":"a","type":"nominal"},"x2":{"field":"b"},"y":{"field":"hi","type":"quantitative"}}},
    {"data":{"name":"br"},"transform":[{"filter":"datum.test=='LDH'&&datum.sex=='F'"}],"mark":{"type":"text","text":"***","fontSize":11,"color":"#444","baseline":"middle"},"encoding":{"x":{"field":"a","type":"nominal","bandPosition":1},"y":{"field":"st","type":"quantitative"}}}
   ]}
 ]},
 {"title":{"text":"eGFR","fontSize":23,"fontWeight":"bold","color":"#222","offset":24,"anchor":"middle","dx":-9},
  "columns":2,"align":"none","spacing":67,
  "concat":[
  {"width":118,"height":283,"title":{"text":"Male","offset":16,"frame":"group","dx":7},
   "layer":[
    {"data":{"name":"ranges"},"transform":[{"filter":"datum.test=='EGFR'&&datum.sex=='M'"}],"mark":{"type":"rect","color":"#fde2d0"},"encoding":{"x":{"value":0},"x2":{"value":"width"},"y":{"field":"lo","type":"quantitative","scale":{"domain":[0,140],"nice":false,"range":[283,12]},"axis":{"title":"ml/min/1.73 m²","values":[0,20,40,60,80,100,120,140],"tickCount":20,"format":"~f","labelOverlap":false}},"y2":{"field":"hi"}}},
    {"data":{"name":"stats"},"transform":[{"filter":"datum.test=='EGFR'&&datum.sex=='M'"}],"mark":{"type":"rule","color":"#555","strokeWidth":1},"encoding":{"x":{"field":"grp","type":"nominal","scale":{"domain":["Group 1","Group 2"],"paddingInner":0.06,"paddingOuter":0.052,"align":0.83},"axis":null},"y":{"field":"min","type":"quantitative"},"y2":{"field":"max"}}},
    {"data":{"name":"stats"},"transform":[{"filter":"datum.test=='EGFR'&&datum.sex=='M'"}],"mark":{"type":"tick","color":"#555","size":14,"thickness":1},"encoding":{"x":{"field":"grp","type":"nominal"},"y":{"field":"min","type":"quantitative"}}},
    {"data":{"name":"stats"},"transform":[{"filter":"datum.test=='EGFR'&&datum.sex=='M'"}],"mark":{"type":"tick","color":"#555","size":14,"thickness":1},"encoding":{"x":{"field":"grp","type":"nominal"},"y":{"field":"max","type":"quantitative"}}},
    {"data":{"name":"stats"},"transform":[{"filter":"datum.test=='EGFR'&&datum.sex=='M'"}],"mark":{"type":"bar","stroke":"#8a7a4a","strokeWidth":1},"encoding":{"x":{"field":"grp","type":"nominal"},"y":{"field":"q1","type":"quantitative"},"y2":{"field":"q3"},"color":{"field":"grp","type":"nominal","scale":{"domain":["Group 1","Group 2"],"range":["#5b9a32","#f7b422"]},"legend":null}}},
    {"data":{"name":"stats"},"transform":[{"filter":"datum.test=='EGFR'&&datum.sex=='M'"}],"mark":{"type":"tick","color":"#5a4a1a","size":54,"thickness":1.2},"encoding":{"x":{"field":"grp","type":"nominal"},"y":{"field":"median","type":"quantitative"}}},
    {"data":{"name":"pts"},"transform":[{"filter":"datum.test=='EGFR'&&datum.sex=='M'"}],"mark":{"type":"circle","color":"#444","size":6,"opacity":0.6},"encoding":{"x":{"field":"grp","type":"nominal"},"y":{"field":"v","type":"quantitative"}}}
   ]},
  {"width":102,"height":283,"title":{"text":"Female","offset":16,"frame":"group","dx":-11},
   "layer":[
    {"data":{"name":"ranges"},"transform":[{"filter":"datum.test=='EGFR'&&datum.sex=='F'"}],"mark":{"type":"rect","color":"#fde2d0"},"encoding":{"x":{"value":0},"x2":{"value":"width"},"y":{"field":"lo","type":"quantitative","scale":{"domain":[0,100],"nice":false,"range":[283,13]},"axis":{"title":"ml/min/1.73 m²","values":[0,10,20,30,40,50,60,70,80,90,100],"tickCount":20,"format":"~f","labelOverlap":false}},"y2":{"field":"hi"}}},
    {"data":{"name":"stats"},"transform":[{"filter":"datum.test=='EGFR'&&datum.sex=='F'"}],"mark":{"type":"rule","color":"#555","strokeWidth":1},"encoding":{"x":{"field":"grp","type":"nominal","scale":{"domain":["Group 1","Group 2"],"paddingInner":0.06,"paddingOuter":0.05,"align":1},"axis":null},"y":{"field":"min","type":"quantitative"},"y2":{"field":"max"}}},
    {"data":{"name":"stats"},"transform":[{"filter":"datum.test=='EGFR'&&datum.sex=='F'"}],"mark":{"type":"tick","color":"#555","size":14,"thickness":1},"encoding":{"x":{"field":"grp","type":"nominal"},"y":{"field":"min","type":"quantitative"}}},
    {"data":{"name":"stats"},"transform":[{"filter":"datum.test=='EGFR'&&datum.sex=='F'"}],"mark":{"type":"tick","color":"#555","size":14,"thickness":1},"encoding":{"x":{"field":"grp","type":"nominal"},"y":{"field":"max","type":"quantitative"}}},
    {"data":{"name":"stats"},"transform":[{"filter":"datum.test=='EGFR'&&datum.sex=='F'"}],"mark":{"type":"bar","stroke":"#8a7a4a","strokeWidth":1},"encoding":{"x":{"field":"grp","type":"nominal"},"y":{"field":"q1","type":"quantitative"},"y2":{"field":"q3"},"color":{"field":"grp","type":"nominal","scale":{"domain":["Group 1","Group 2"],"range":["#5b9a32","#f7b422"]},"legend":null}}},
    {"data":{"name":"stats"},"transform":[{"filter":"datum.test=='EGFR'&&datum.sex=='F'"}],"mark":{"type":"tick","color":"#5a4a1a","size":47,"thickness":1.2},"encoding":{"x":{"field":"grp","type":"nominal"},"y":{"field":"median","type":"quantitative"}}},
    {"data":{"name":"pts"},"transform":[{"filter":"datum.test=='EGFR'&&datum.sex=='F'"}],"mark":{"type":"circle","color":"#444","size":6,"opacity":0.6},"encoding":{"x":{"field":"grp","type":"nominal"},"y":{"field":"v","type":"quantitative"}}}
   ]}
 ]}
],"columns":2,"align":"none","spacing":24}
],
"columns":1,"align":"none","spacing":36,
"config":{
 "view":{"stroke":null},
 "font":"Open Sans",
 "axis":{"ticks":false,"grid":false,"labelOverlap":false,"domainColor":"#9a9a9a","domainWidth":1,"labelFont":"Open Sans","labelFontSize":18,"labelFontWeight":"bold","labelColor":"#333","labelPadding":4,"titleFont":"Open Sans","titleFontSize":22,"titleFontWeight":"bold","titleColor":"#222","titlePadding":4},
 "title":{"font":"Open Sans","fontSize":18,"fontWeight":"normal","color":"#555","anchor":"middle"}
}
}
